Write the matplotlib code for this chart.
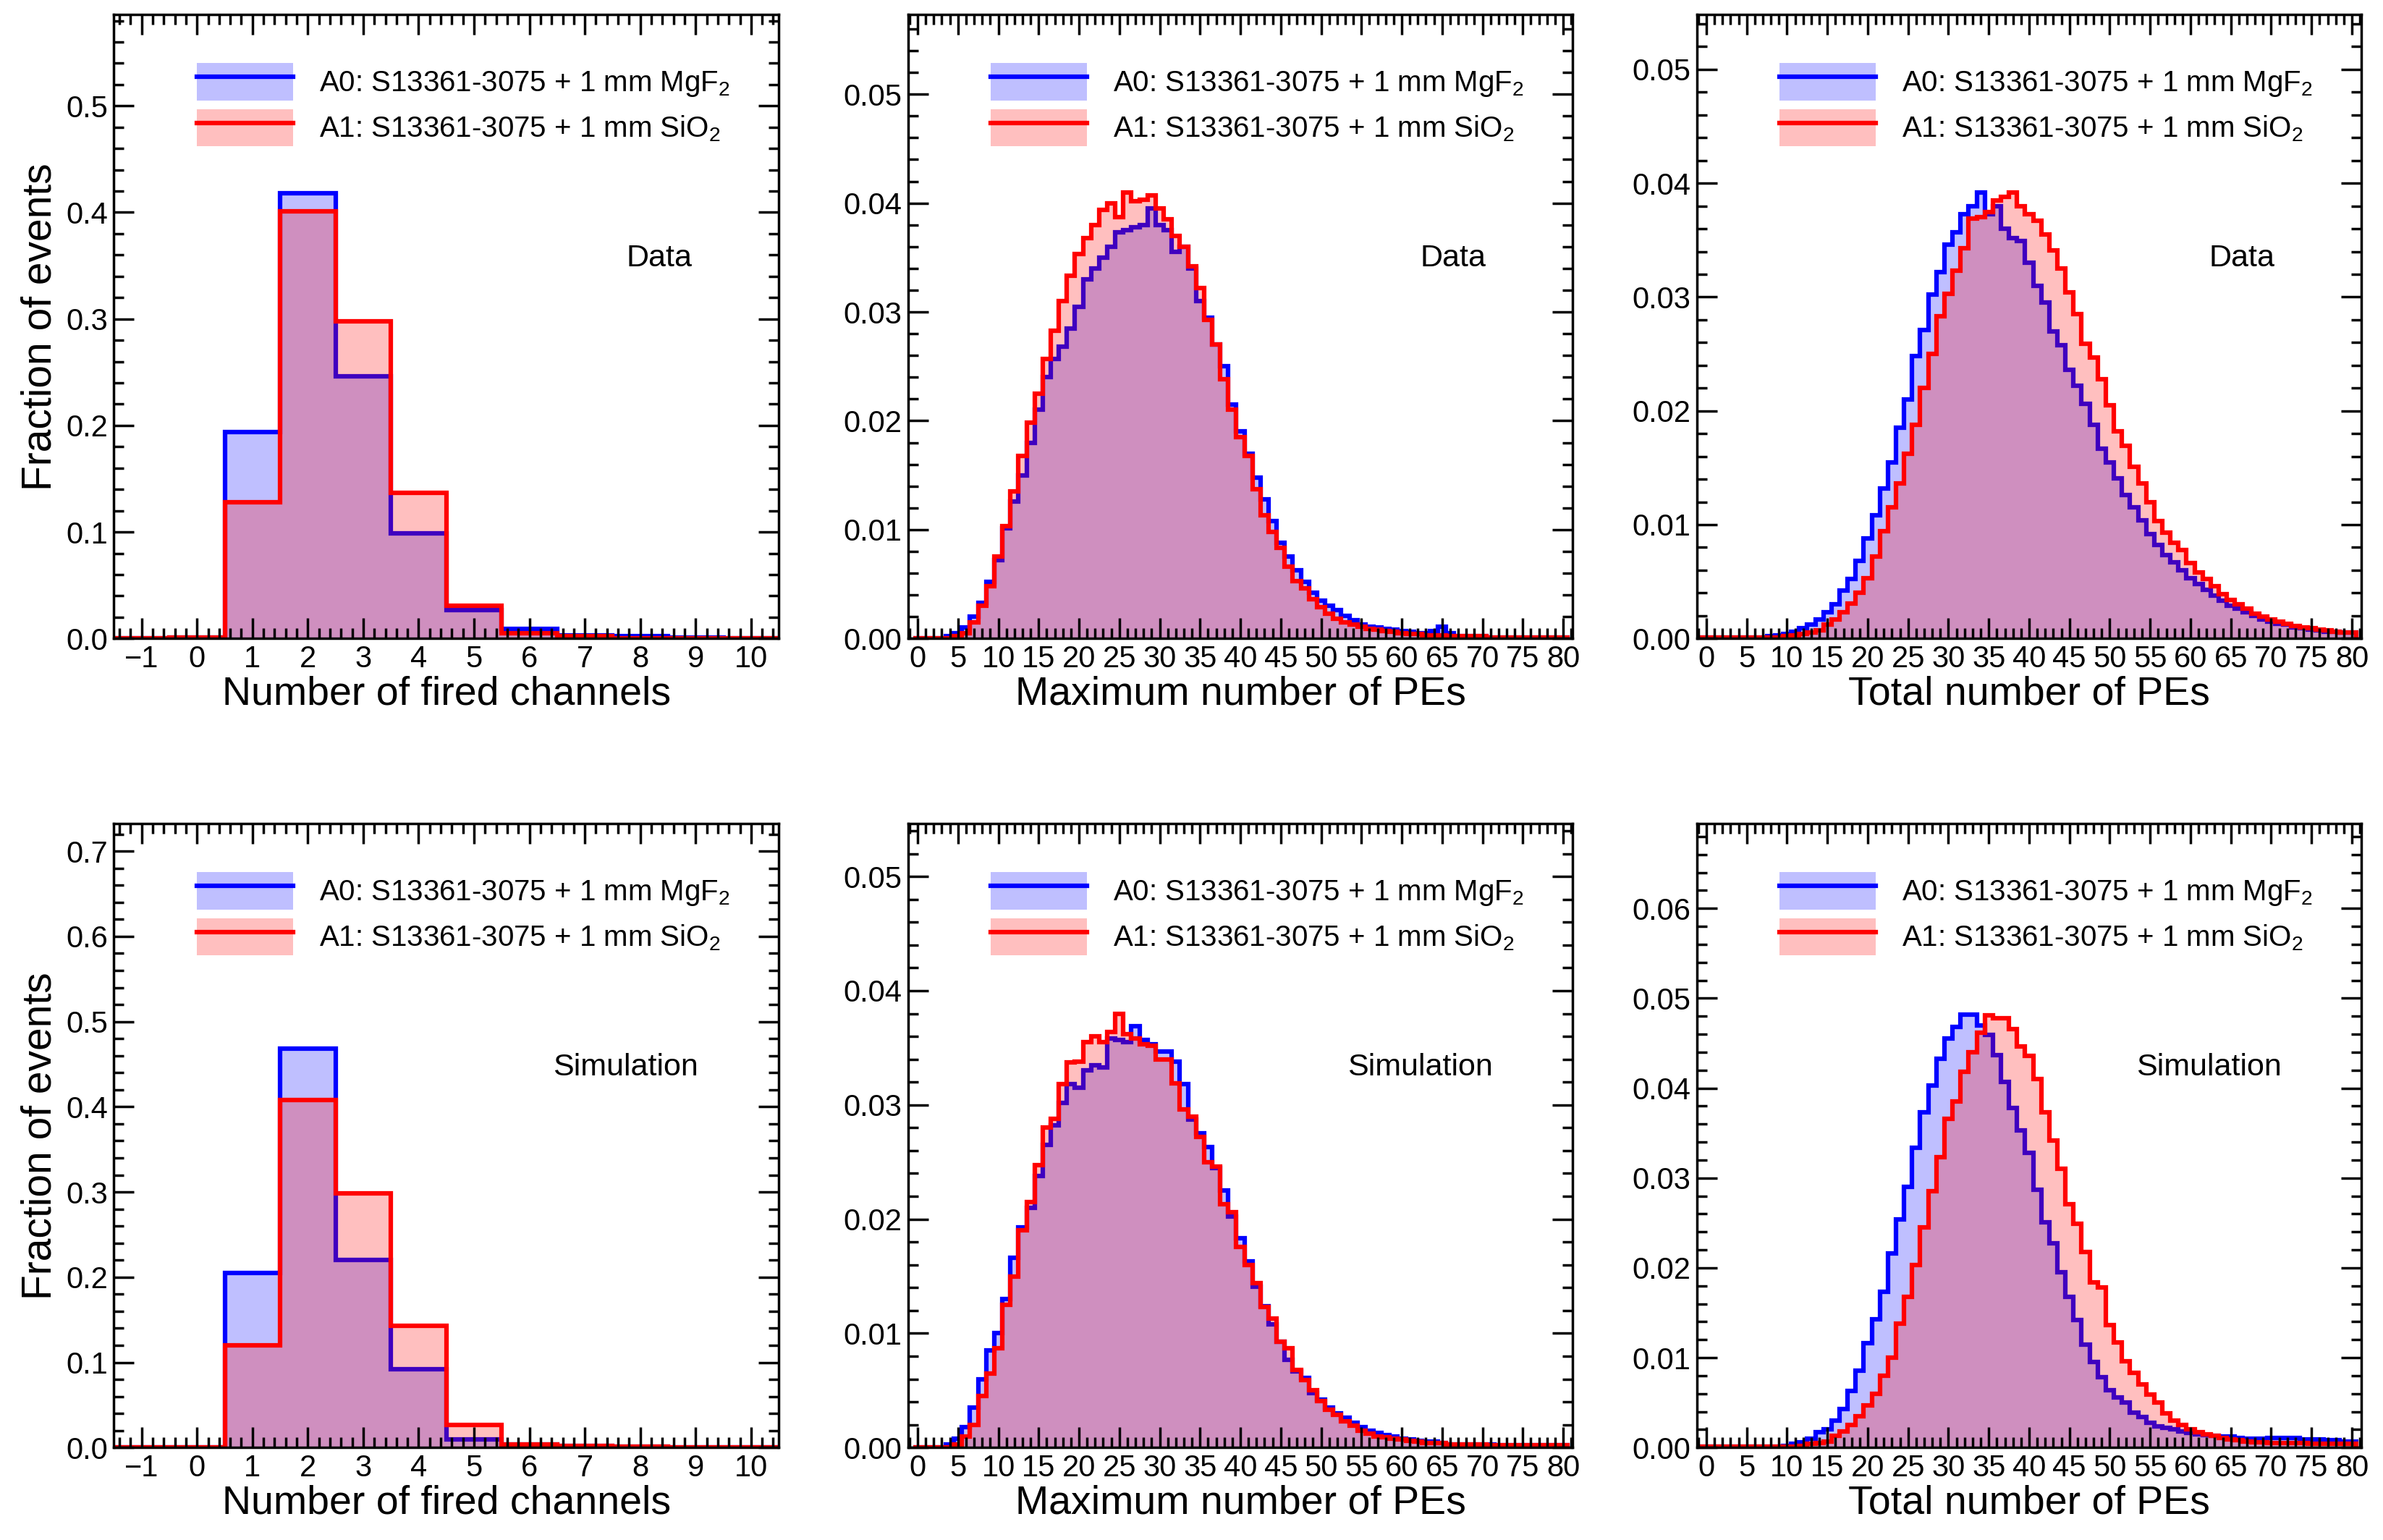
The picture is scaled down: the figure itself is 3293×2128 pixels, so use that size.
import numpy as np
import matplotlib
matplotlib.use("Agg")
import matplotlib.pyplot as plt
from matplotlib.patches import Patch
from matplotlib.lines import Line2D
from matplotlib.ticker import MultipleLocator

plt.rcParams['font.family'] = ['Liberation Sans', 'DejaVu Sans']
plt.rcParams['mathtext.fontset'] = 'custom'
plt.rcParams['mathtext.rm'] = 'Liberation Sans'

# ---- data ----
nch_x = list(range(-1, 11))
nch_data_a0 = [0, 0.001, 0.194, 0.418, 0.246, 0.099, 0.027, 0.009, 0.003, 0.002, 0.001, 0.0005]
nch_data_a1 = [0, 0.001, 0.128, 0.401, 0.298, 0.137, 0.031, 0.005, 0.002, 0.0005, 0.0003, 0]
nch_sim_a0 = [0, 0.0005, 0.205, 0.468, 0.220, 0.092, 0.010, 0.004, 0.002, 0.001, 0.0005, 0.0003]
nch_sim_a1 = [0, 0.0005, 0.120, 0.408, 0.298, 0.143, 0.027, 0.004, 0.002, 0.001, 0.0005, 0.0002]

pe_x = list(range(0, 81))
maxpe_data_a0 = [0, 0, 0, 0, 0.0002, 0.0005, 0.001, 0.002, 0.0033, 0.0052,
                 0.0072, 0.0101, 0.0126, 0.015, 0.018, 0.021, 0.024, 0.0257, 0.0268, 0.0285,
                 0.0305, 0.033, 0.034, 0.035, 0.036, 0.0373, 0.0375, 0.0378, 0.038, 0.0395,
                 0.038, 0.0375, 0.0355, 0.036, 0.034, 0.031, 0.0295, 0.027, 0.025, 0.0215,
                 0.019, 0.017, 0.0148, 0.0128, 0.0108, 0.0088, 0.0075, 0.0063, 0.0052, 0.0042,
                 0.0035, 0.003, 0.0026, 0.0021, 0.0017, 0.0013, 0.0011, 0.001, 0.0009, 0.0008,
                 0.0007, 0.0006, 0.0005, 0.0005, 0.0007, 0.0011, 0.0005, 0.0002, 0.0002, 0.0002,
                 0.0002, 0.0001, 0.0001, 0.0001, 0.0001, 0.0001, 0.0001, 0.0001, 0.0001, 0.0001, 0.0001]
maxpe_data_a1 = [0, 0, 0, 0, 0, 0.0002, 0.0005, 0.0015, 0.003, 0.0048,
                 0.0075, 0.0103, 0.0135, 0.0168, 0.0198, 0.0225, 0.0257, 0.0283, 0.031, 0.0333,
                 0.0353, 0.0368, 0.038, 0.0394, 0.04, 0.0387, 0.041, 0.0402, 0.0403, 0.0407,
                 0.0395, 0.0385, 0.037, 0.036, 0.0342, 0.0322, 0.0293, 0.027, 0.0238, 0.021,
                 0.0185, 0.0168, 0.0137, 0.0113, 0.0098, 0.0083, 0.0066, 0.0053, 0.0046, 0.0036,
                 0.0029, 0.0023, 0.0018, 0.0015, 0.0013, 0.0011, 0.0009, 0.0008, 0.0007, 0.0006,
                 0.0005, 0.0004, 0.0004, 0.0003, 0.0003, 0.0003, 0.0002, 0.0002, 0.0002, 0.0002,
                 0.0002, 0.0001, 0.0001, 0.0001, 0.0001, 0.0001, 0.0001, 0.0001, 0.0001, 0.0001, 0.0001]
totpe_data_a0 = [0.0001, 0.0001, 0.0001, 0.0001, 0.0001, 0.0001, 0.0001, 0.0001, 0.0002, 0.0003,
                 0.0004, 0.0006, 0.0009, 0.0012, 0.0017, 0.0023, 0.003, 0.0042, 0.0052, 0.0068,
                 0.0088, 0.0108, 0.0132, 0.0155, 0.0185, 0.021, 0.0248, 0.0271, 0.0302, 0.0322,
                 0.0346, 0.0357, 0.0373, 0.038, 0.0392, 0.0373, 0.038, 0.036, 0.0352, 0.0349,
                 0.033, 0.031, 0.0295, 0.027, 0.0258, 0.0236, 0.0222, 0.0206, 0.0188, 0.0167,
                 0.0155, 0.0141, 0.0126, 0.0115, 0.0104, 0.0092, 0.0082, 0.0073, 0.0067, 0.006,
                 0.0053, 0.0048, 0.0043, 0.0038, 0.0033, 0.0029, 0.0026, 0.0023, 0.002, 0.0017,
                 0.0015, 0.0013, 0.0012, 0.001, 0.0009, 0.0008, 0.0007, 0.0006, 0.0006, 0.0005, 0.0005]
totpe_data_a1 = [0.0001, 0.0001, 0.0001, 0.0001, 0.0001, 0.0001, 0.0001, 0.0001, 0.0001, 0.0001,
                 0.0002, 0.0003, 0.0004, 0.0005, 0.0007, 0.0012, 0.0017, 0.0023, 0.0031, 0.004,
                 0.0053, 0.0072, 0.0094, 0.0115, 0.0136, 0.0162, 0.0188, 0.022, 0.025, 0.0283,
                 0.0303, 0.0323, 0.0343, 0.0369, 0.037, 0.0375, 0.0385, 0.0388, 0.0392, 0.038,
                 0.0373, 0.0367, 0.0355, 0.0341, 0.0325, 0.0304, 0.0285, 0.0259, 0.0247, 0.0228,
                 0.0205, 0.0182, 0.0169, 0.0151, 0.0136, 0.012, 0.0103, 0.0093, 0.0084, 0.0078,
                 0.0066, 0.0058, 0.0052, 0.0046, 0.0039, 0.0034, 0.003, 0.0026, 0.0022, 0.0019,
                 0.0017, 0.0015, 0.0013, 0.0011, 0.001, 0.0009, 0.0008, 0.0007, 0.0006, 0.0005, 0.0005]
maxpe_sim_a0 = [0, 0, 0, 0, 0.0003, 0.0008, 0.0018, 0.0035, 0.006, 0.0085,
                0.01, 0.013, 0.0166, 0.0193, 0.021, 0.0238, 0.0265, 0.0282, 0.0302, 0.0318,
                0.0315, 0.033, 0.0335, 0.0333, 0.0358, 0.0357, 0.0355, 0.0369, 0.0357, 0.0353,
                0.0347, 0.0347, 0.0338, 0.0318, 0.0287, 0.0275, 0.0263, 0.0245, 0.0225, 0.0202,
                0.0183, 0.0163, 0.0141, 0.0124, 0.0108, 0.0093, 0.0077, 0.0067, 0.0061, 0.0048,
                0.0042, 0.0035, 0.003, 0.0026, 0.0022, 0.0018, 0.0015, 0.0013, 0.0011, 0.001,
                0.0008, 0.0007, 0.0006, 0.0005, 0.0005, 0.0004, 0.0003, 0.0003, 0.0003, 0.0003,
                0.0003, 0.0003, 0.0002, 0.0002, 0.0002, 0.0002, 0.0002, 0.0002, 0.0002, 0.0002, 0.0002]
maxpe_sim_a1 = [0, 0, 0, 0, 0, 0.0003, 0.001, 0.002, 0.0045, 0.0065,
                0.0087, 0.0125, 0.015, 0.019, 0.0215, 0.0247, 0.028, 0.0288, 0.0318, 0.0337,
                0.0338, 0.0355, 0.036, 0.0355, 0.0364, 0.038, 0.0362, 0.0358, 0.0353, 0.0352,
                0.034, 0.034, 0.0319, 0.0296, 0.029, 0.0272, 0.025, 0.0246, 0.0213, 0.0206,
                0.0176, 0.016, 0.0144, 0.0123, 0.0113, 0.0093, 0.0087, 0.0068, 0.0059, 0.005,
                0.0041, 0.0033, 0.0029, 0.0023, 0.0019, 0.0015, 0.0012, 0.001, 0.0009, 0.0008,
                0.0007, 0.0006, 0.0005, 0.0004, 0.0004, 0.0004, 0.0003, 0.0003, 0.0003, 0.0003,
                0.0003, 0.0002, 0.0002, 0.0002, 0.0002, 0.0002, 0.0002, 0.0002, 0.0002, 0.0002, 0.0002]
totpe_sim_a0 = [0.0001, 0.0001, 0.0001, 0.0001, 0.0001, 0.0001, 0.0001, 0.0001, 0.0001, 0.0001,
                0.0002, 0.0004, 0.0006, 0.001, 0.0017, 0.002, 0.003, 0.0043, 0.0063, 0.0086,
                0.0116, 0.0143, 0.0173, 0.0216, 0.0254, 0.029, 0.0334, 0.0373, 0.0403, 0.0433,
                0.0455, 0.0468, 0.0482, 0.0482, 0.047, 0.0459, 0.0437, 0.0407, 0.0378, 0.0353,
                0.0328, 0.0287, 0.0251, 0.0227, 0.0195, 0.0168, 0.0142, 0.0115, 0.0095, 0.0078,
                0.0064, 0.0056, 0.005, 0.0039, 0.0034, 0.0028, 0.0024, 0.0022, 0.002, 0.0018,
                0.0016, 0.0015, 0.0014, 0.0013, 0.0012, 0.0012, 0.0011, 0.001, 0.001, 0.001,
                0.0011, 0.0011, 0.0011, 0.0011, 0.0009, 0.0009, 0.0009, 0.0008, 0.0008, 0.0007, 0.0007]
totpe_sim_a1 = [0.0001, 0.0001, 0.0001, 0.0001, 0.0001, 0.0001, 0.0001, 0.0001, 0.0001, 0.0001,
                0.0001, 0.0001, 0.0002, 0.0004, 0.0005, 0.0007, 0.0013, 0.0018, 0.0025, 0.0035,
                0.0047, 0.006, 0.008, 0.01, 0.0138, 0.0168, 0.0203, 0.0245, 0.0285, 0.0323,
                0.0366, 0.0385, 0.0418, 0.044, 0.0462, 0.0481, 0.0478, 0.0478, 0.0466, 0.0446,
                0.0436, 0.041, 0.0373, 0.0342, 0.031, 0.0271, 0.0249, 0.0218, 0.0184, 0.0178,
                0.0136, 0.0117, 0.0096, 0.0083, 0.007, 0.0059, 0.005, 0.0038, 0.003, 0.0025,
                0.002, 0.0017, 0.0015, 0.0013, 0.0011, 0.0009, 0.0008, 0.0007, 0.0006, 0.0006,
                0.0005, 0.0005, 0.0005, 0.0005, 0.0005, 0.0004, 0.0004, 0.0004, 0.0004, 0.0004, 0.0004]

label_a0 = 'A0: S13361-3075 + 1 mm MgF$_2$'
label_a1 = 'A1: S13361-3075 + 1 mm SiO$_2$'

fig = plt.figure(figsize=(32.93, 21.28), dpi=100)

lefts = [0.0478, 0.381, 0.712]
w = 0.279
rows = [(0.5854, 0.405), (0.060, 0.405)]

panels = [
    (nch_x, nch_data_a0, nch_data_a1, (-1.5, 10.5), 0.5855, 'Number of fired channels', 'Data', 0),
    (pe_x, maxpe_data_a0, maxpe_data_a1, (-1.2, 81.2), 0.0573, 'Maximum number of PEs', 'Data', 0),
    (pe_x, totpe_data_a0, totpe_data_a1, (-1.2, 81.2), 0.0548, 'Total number of PEs', 'Data', 0),
    (nch_x, nch_sim_a0, nch_sim_a1, (-1.5, 10.5), 0.732, 'Number of fired channels', 'Simulation', 1),
    (pe_x, maxpe_sim_a0, maxpe_sim_a1, (-1.2, 81.2), 0.0546, 'Maximum number of PEs', 'Simulation', 1),
    (pe_x, totpe_sim_a0, totpe_sim_a1, (-1.2, 81.2), 0.0694, 'Total number of PEs', 'Simulation', 1),
]

for i, (x, a0, a1, xlim, ytop, xlabel, tag, r) in enumerate(panels):
    ax = fig.add_axes([lefts[i % 3], rows[r][0], w, rows[r][1]])
    edges = np.append(np.array(x) - 0.5, x[-1] + 0.5)
    ax.stairs(a0, edges, fill=True, color='blue', alpha=0.25, lw=0)
    ax.stairs(a0, edges, color='blue', lw=4.5)
    ax.stairs(a1, edges, fill=True, color='red', alpha=0.25, lw=0)
    ax.stairs(a1, edges, color='red', lw=4.5)
    ax.set_xlim(*xlim)
    ax.set_ylim(0, ytop)
    if i % 3 == 0:
        ax.xaxis.set_major_locator(MultipleLocator(1))
        ax.xaxis.set_minor_locator(MultipleLocator(0.2))
        ax.yaxis.set_major_locator(MultipleLocator(0.1))
        ax.yaxis.set_minor_locator(MultipleLocator(0.02))
        ax.yaxis.set_major_formatter(lambda v, p: f'{v:.1f}')
        ax.set_ylabel('Fraction of events', fontsize=41, labelpad=6)
    else:
        ax.xaxis.set_major_locator(MultipleLocator(5))
        ax.xaxis.set_minor_locator(MultipleLocator(1))
        ax.yaxis.set_major_locator(MultipleLocator(0.01))
        ax.yaxis.set_minor_locator(MultipleLocator(0.002))
        ax.yaxis.set_major_formatter(lambda v, p: f'{v:.2f}')
    ax.tick_params(which='both', direction='in', top=True, right=True, width=2.5)
    ax.tick_params(which='major', length=20, labelsize=30, pad=6)
    ax.tick_params(which='minor', length=10)
    for s in ax.spines.values():
        s.set_linewidth(2.5)
    ax.set_xlabel(xlabel, fontsize=40, labelpad=2)
    ax.text(0.82 if tag == 'Data' else 0.77, 0.61, tag, transform=ax.transAxes,
            fontsize=31, ha='center', va='center')
    h0 = (Patch(facecolor='blue', alpha=0.25, lw=0), Line2D([], [], color='blue', lw=4.5))
    h1 = (Patch(facecolor='red', alpha=0.25, lw=0), Line2D([], [], color='red', lw=4.5))
    ax.legend([h0, h1], [label_a0, label_a1], loc='upper left',
              bbox_to_anchor=(0.085, 0.965), frameon=False, fontsize=29,
              handlelength=3.3, handleheight=1.6, labelspacing=0.3, handletextpad=0.9)

fig.savefig('out.png', dpi=100)
